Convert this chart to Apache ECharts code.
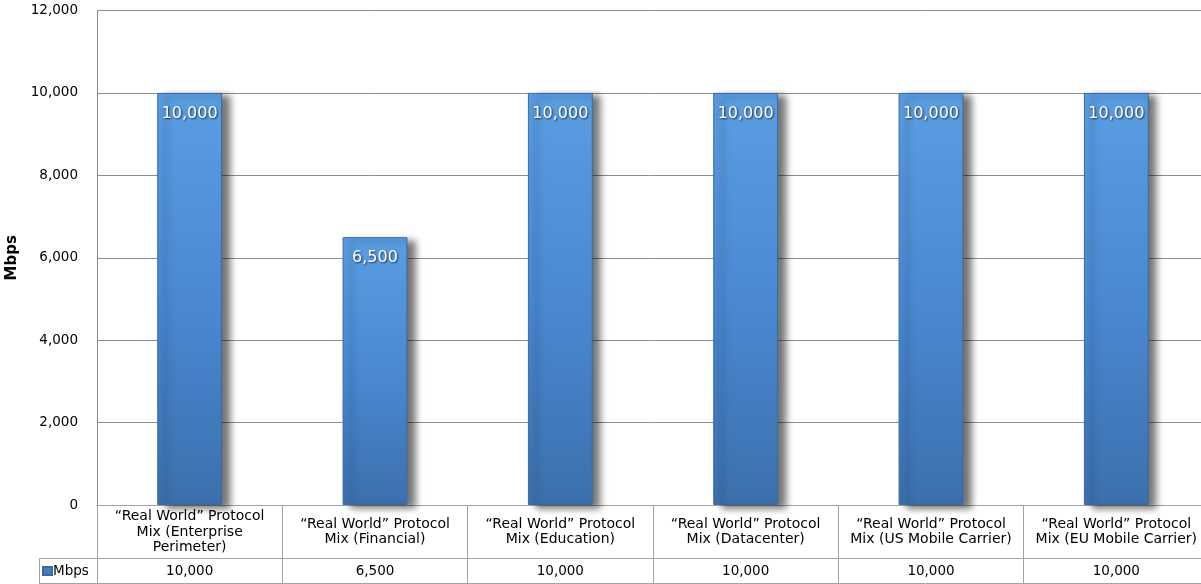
<!DOCTYPE html>
<html>
<head>
<meta charset="utf-8">
<script src="https://cdn.jsdelivr.net/npm/echarts@6/dist/echarts.min.js"></script>
<style>
html,body{margin:0;padding:0;background:#fff;}
#chart{width:1201px;height:584px;}
</style>
</head>
<body>
<div id="chart"></div>
<script>
const categories = [
  '\u201cReal World\u201d Protocol\nMix (Enterprise\nPerimeter)',
  '\u201cReal World\u201d Protocol\nMix (Financial)',
  '\u201cReal World\u201d Protocol\nMix (Education)',
  '\u201cReal World\u201d Protocol\nMix (Datacenter)',
  '\u201cReal World\u201d Protocol\nMix (US Mobile Carrier)',
  '\u201cReal World\u201d Protocol\nMix (EU Mobile Carrier)'
];
const seriesName = 'Mbps';
const mbpsValues = [10000, 6500, 10000, 10000, 10000, 10000];
const yTicks = { min: 0, max: 12000, interval: 2000 };

const fmt = v => Number(v).toLocaleString('en-US');
const FONT = 'DejaVu Sans';
const BORDER = '#a3a3a3';

const chart = echarts.init(document.getElementById('chart'));
chart.setOption({
  animation: false,
  textStyle: { fontFamily: FONT },
  grid: { left: 97, top: 10.5, width: 1112, height: 494.5, containLabel: false, outerBoundsMode: 'none' },
  legend: {
    data: [seriesName],
    left: 42, top: 564, padding: 0,
    icon: 'rect', itemWidth: 9, itemHeight: 8,
    itemStyle: { color: '#4a7ebb' },
    textStyle: { fontFamily: FONT, fontSize: 13.5, color: '#000', padding: [0, 0, 0, -4] },
    selectedMode: false
  },
  xAxis: [
    {
      type: 'category', data: categories, position: 'bottom',
      axisLine: { show: true, lineStyle: { color: BORDER, width: 1 } },
      axisTick: { show: true, interval: 0, length: 78, alignWithLabel: false, lineStyle: { color: BORDER } },
      axisLabel: { interval: 0, margin: 27, verticalAlign: 'middle', lineHeight: 15.5,
        fontFamily: FONT, fontSize: 14, color: '#000' },
      splitLine: { show: false }
    },
    {
      type: 'category', data: mbpsValues.map(fmt), position: 'bottom', offset: 53,
      axisLine: { show: true, lineStyle: { color: BORDER, width: 1 } },
      axisTick: { show: false },
      axisLabel: { interval: 0, margin: 13.5, verticalAlign: 'middle',
        fontFamily: FONT, fontSize: 13.5, color: '#000' },
      splitLine: { show: false }
    },
    {
      type: 'category', data: categories.map(() => ''), position: 'bottom', offset: 78,
      axisLine: { show: true, lineStyle: { color: BORDER, width: 1 } },
      axisTick: { show: false }, axisLabel: { show: false }
    }
  ],
  yAxis: {
    type: 'value', min: yTicks.min, max: yTicks.max, interval: yTicks.interval,
    name: 'Mbps', nameLocation: 'middle', nameGap: 72, nameRotate: 90,
    nameTextStyle: { fontFamily: FONT, fontWeight: 'bold', fontSize: 15, color: '#000' },
    axisLine: { show: true, lineStyle: { color: '#8c8c8c' } },
    axisTick: { show: false },
    axisLabel: { margin: 19, fontFamily: FONT, fontSize: 13.5, color: '#000', formatter: v => fmt(v) },
    splitLine: { show: true, lineStyle: { color: '#8c8c8c', width: 1 } }
  },
  series: [{
    name: seriesName, type: 'bar', data: mbpsValues, xAxisIndex: 0, barWidth: '35%',
    itemStyle: {
      color: new echarts.graphic.LinearGradient(0, 0, 0, 1, [
        { offset: 0, color: '#5a9ee2' },
        { offset: 0.5, color: '#4a89d2' },
        { offset: 1, color: '#3c70ad' }
      ]),
      borderColor: '#3a6aa3', borderWidth: 1,
      shadowColor: 'rgba(0,0,0,0.55)', shadowBlur: 7, shadowOffsetX: 8, shadowOffsetY: 3
    },
    label: {
      show: true, position: 'insideTop', distance: 13,
      fontFamily: FONT, fontSize: 16, color: '#fff',
      textShadowColor: 'rgba(0,0,0,0.7)', textShadowBlur: 2, textShadowOffsetX: 1, textShadowOffsetY: 1,
      formatter: p => fmt(p.value)
    }
  }],
  graphic: [
    { type: 'line', shape: { x1: 39.5, y1: 558.5, x2: 97, y2: 558.5 }, style: { stroke: BORDER, lineWidth: 1 } },
    { type: 'line', shape: { x1: 39.5, y1: 583.5, x2: 97, y2: 583.5 }, style: { stroke: BORDER, lineWidth: 1 } },
    { type: 'line', shape: { x1: 39.5, y1: 558.5, x2: 39.5, y2: 584 }, style: { stroke: BORDER, lineWidth: 1 } }
  ]
});
</script>
</body>
</html>
